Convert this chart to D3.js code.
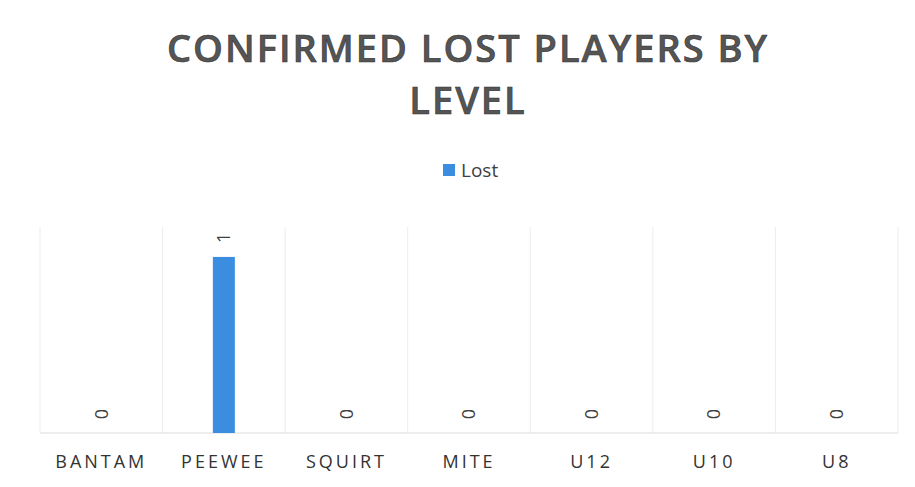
<!DOCTYPE html>
<html>
<head>
<meta charset="utf-8">
<script src="https://cdn.jsdelivr.net/npm/d3@7"></script>
<style>
  body { margin: 0; background: #fff; }
  svg { display: block; }
</style>
</head>
<body>
<div id="chart"></div>
<script>
// Chart data.
const levels = ['BANTAM', 'PEEWEE', 'SQUIRT', 'MITE', 'U12', 'U10', 'U8'];
const lost = [0, 1, 0, 0, 0, 0, 0];
const seriesName = 'Lost';
const titleLines = ['CONFIRMED LOST PLAYERS BY', 'LEVEL'];
const yMax = 1.17;

const width = 915;
const height = 487;
const margin = { top: 227, right: 17, bottom: 54, left: 40 };
const barColor = '#3b8de0';

const svg = d3
  .select('#chart')
  .append('svg')
  .attr('width', width)
  .attr('height', height);

// Scales.
const x = d3
  .scaleBand()
  .domain(levels)
  .range([margin.left, width - margin.right]);

const y = d3
  .scaleLinear()
  .domain([0, yMax])
  .range([height - margin.bottom, margin.top]);

// Vertical gridlines at category boundaries.
const bounds = levels.map(d => x(d)).concat([x.range()[1]]);
svg
  .append('g')
  .selectAll('line')
  .data(bounds)
  .join('line')
  .attr('x1', d => d)
  .attr('x2', d => d)
  .attr('y1', y(yMax))
  .attr('y2', y(0))
  .attr('stroke', '#ededed')
  .attr('stroke-width', 1);

// Baseline.
svg
  .append('line')
  .attr('x1', x.range()[0])
  .attr('x2', x.range()[1])
  .attr('y1', y(0))
  .attr('y2', y(0))
  .attr('stroke', '#dcdcdc');

// Bars.
const barW = 22;
svg
  .append('g')
  .selectAll('rect')
  .data(levels)
  .join('rect')
  .attr('x', d => x(d) + x.bandwidth() / 2 - barW / 2)
  .attr('y', (d, i) => y(lost[i]))
  .attr('width', barW)
  .attr('height', (d, i) => y(0) - y(lost[i]))
  .attr('fill', barColor);

// Value labels, rotated.
svg
  .append('g')
  .selectAll('text')
  .data(levels)
  .join('text')
  .attr('transform', (d, i) => {
    const cx = x(d) + x.bandwidth() / 2;
    const cy = y(lost[i]) - 19;
    return `translate(${cx},${cy}) rotate(-90)`;
  })
  .attr('text-anchor', 'middle')
  .attr('dy', '0.35em')
  .attr('font-family', 'Open Sans, sans-serif')
  .attr('font-size', 18)
  .attr('fill', '#404040')
  .text((d, i) => lost[i]);

// Category axis.
const xAxis = svg
  .append('g')
  .attr('transform', `translate(0,${y(0)})`)
  .call(d3.axisBottom(x).tickSize(0).tickPadding(22));
xAxis.select('.domain').remove();
xAxis
  .selectAll('text')
  .attr('font-family', 'Open Sans, sans-serif')
  .attr('font-size', 18)
  .attr('letter-spacing', '3px')
  .attr('fill', '#333');

// Title.
svg
  .append('g')
  .selectAll('text')
  .data(titleLines)
  .join('text')
  .attr('x', 468)
  .attr('y', (d, i) => 62 + i * 52)
  .attr('text-anchor', 'middle')
  .attr('font-family', 'Open Sans, sans-serif')
  .attr('font-weight', 600)
  .attr('font-size', 38)
  .attr('letter-spacing', '2px')
  .attr('fill', '#555')
  .attr('stroke', '#333')
  .attr('stroke-width', 0.6)
  .text(d => d);

// Legend.
const legend = svg.append('g').attr('transform', 'translate(443,164)');
legend
  .append('rect')
  .attr('width', 12)
  .attr('height', 12)
  .attr('fill', barColor);
legend
  .append('text')
  .attr('x', 18)
  .attr('y', 13)
  .attr('font-family', 'Open Sans, sans-serif')
  .attr('font-size', 19)
  .attr('fill', '#404040')
  .text(seriesName);
</script>
</body>
</html>
